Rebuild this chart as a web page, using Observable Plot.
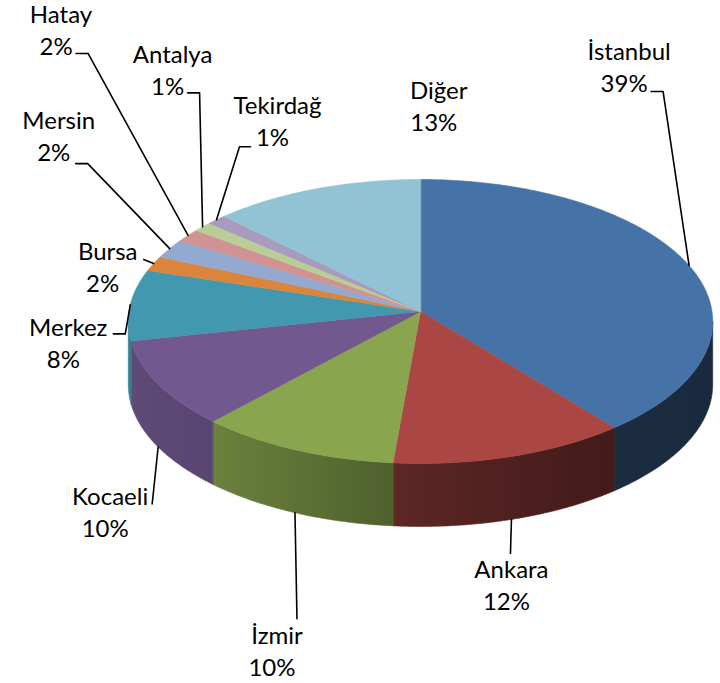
<!DOCTYPE html>
<html>
<head>
<meta charset="utf-8">
<script src="https://cdn.jsdelivr.net/npm/d3@7"></script>
<script src="https://cdn.jsdelivr.net/npm/@observablehq/plot@0.6"></script>
<style>
  html, body { margin: 0; padding: 0; background: #ffffff; }
  #chart svg { display: block; }
</style>
</head>
<body>
<div id="chart"></div>
<script>
// ---- data ----
const categories = ["İstanbul", "Ankara", "İzmir", "Kocaeli", "Merkez", "Bursa", "Mersin", "Hatay", "Antalya", "Tekirdağ", "Diğer"];
const values = [39.2, 12.2, 10.4, 9.9, 8.1, 1.7, 2.2, 1.5, 1.1, 1.2, 12.5];
const colors = ["#4572A7", "#AA4643", "#89A54E", "#71588F", "#4198AF", "#DB843D", "#93A9CF", "#D19392", "#B9CD96", "#A99BBD", "#92C3D4"];

// ---- label layout (offsets from each slice's rim anchor) ----
const labelOffsets = [
  {name: [-60, -206], leader: [[-26, -174], [-38, -174]]},
  {name: [0, 59], leader: [[-1, 34]]},
  {name: [-18, 131], leader: [[2, 106]]},
  {name: [-48, 58], leader: [[-6, 57]]},
  {name: [-62, 31], leader: [[-5, 29], [-17, 29]]},
  {name: [-46, -4], leader: [[-10, -4]]},
  {name: [-111, -120], leader: [[-82, -85], [-94, -85]]},
  {name: [-127, -212], leader: [[-100, -182], [-112, -182]]},
  {name: [-30, -164], leader: [[-3, -134], [-15, -134]]},
  {name: [61, -106], leader: [[23, -73], [34, -73]]},
  {name: [123, -90], leader: []}
];

// ---- geometry of the tilted 3D pie ----
const W = 720, H = 683;
const cx = 420, cy = 311, A = 291.5, B = 141.3, K = 0.0703, DEPTH = 63;
function proj(t, dz = 0) {
  const X = Math.sin(t), Z = Math.cos(t), d = 1 + K * Z;
  return [cx + A * X / d, cy - B * Z / d + dz];
}
const arcs = d3.pie().sort(null).value(d => d)(values);
const step = Math.PI / 360;
const tVis1 = Math.acos(-K), tVis2 = 2 * Math.PI - tVis1;

const tops = [], walls = [], anchors = [];
arcs.forEach((a, i) => {
  const n = Math.max(2, Math.ceil((a.endAngle - a.startAngle) / step));
  tops.push({i, x: cx, y: cy});
  for (let j = 0; j <= n; j++) {
    const t = a.startAngle + (a.endAngle - a.startAngle) * j / n;
    const [x, y] = proj(t);
    tops.push({i, x, y});
  }
  const s = Math.max(a.startAngle, tVis1), e = Math.min(a.endAngle, tVis2);
  if (e > s) {
    const m = Math.max(2, Math.ceil((e - s) / step));
    for (let j = 0; j <= m; j++) {
      const [x, y] = proj(s + (e - s) * j / m);
      walls.push({i, x, y});
    }
    for (let j = m; j >= 0; j--) {
      const [x, y] = proj(s + (e - s) * j / m, DEPTH);
      walls.push({i, x, y});
    }
  }
  const mid = (a.startAngle + a.endAngle) / 2;
  const onWall = mid > tVis1 && mid < tVis2;
  anchors.push(proj(mid, onWall ? DEPTH : 0));
});

const leaders = [], names = [], pcts = [];
anchors.forEach(([ax, ay], i) => {
  const L = labelOffsets[i];
  if (L.leader.length) {
    leaders.push({k: i, x: ax, y: ay});
    L.leader.forEach(([dx, dy]) => leaders.push({k: i, x: ax + dx, y: ay + dy}));
  }
  const nx = ax + L.name[0], ny = ay + L.name[1];
  names.push({x: nx, y: ny, text: categories[i]});
  pcts.push({x: nx - 5, y: ny + 32, text: Math.round(values[i]) + "%"});
});

const chart = Plot.plot({
  width: W,
  height: H,
  margin: 0,
  x: {type: "identity", axis: null},
  y: {type: "identity", axis: null},
  color: {type: "identity"},
  marks: [
    Plot.line(walls, {x: "x", y: "y", z: "i", fill: d => `url(#wall-${d.i})`, stroke: d => `url(#wall-${d.i})`, strokeWidth: 0.6, curve: "linear-closed"}),
    Plot.line(tops, {x: "x", y: "y", z: "i", fill: d => colors[d.i], stroke: d => colors[d.i], strokeWidth: 0.6, curve: "linear-closed"}),
    Plot.line(leaders, {x: "x", y: "y", z: "k", stroke: "#000", strokeWidth: 1.6}),
    Plot.text(names, {x: "x", y: "y", text: "text", fontSize: 24, fontFamily: "Lato", fill: "#000", lineAnchor: "bottom", textAnchor: "middle"}),
    Plot.text(pcts, {x: "x", y: "y", text: "text", fontSize: 24, fontFamily: "Lato", fill: "#000", lineAnchor: "bottom", textAnchor: "middle"})
  ]
});

// side-wall shading gradients
const shadeStops = [[128, 0.84], [213, 0.78], [393, 0.58], [400, 0.54], [612, 0.39], [712, 0.37]];
const defs = d3.select(chart).insert("defs", ":first-child");
colors.forEach((c, i) => {
  const base = d3.rgb(c);
  const g = defs.append("linearGradient")
    .attr("id", `wall-${i}`)
    .attr("gradientUnits", "userSpaceOnUse")
    .attr("x1", 128).attr("x2", 712).attr("y1", 0).attr("y2", 0);
  shadeStops.forEach(([x, f]) => {
    g.append("stop")
      .attr("offset", (x - 128) / (712 - 128))
      .attr("stop-color", d3.rgb(base.r * f, base.g * f, base.b * f).formatHex());
  });
});

document.getElementById("chart").appendChild(chart);
</script>
</body>
</html>
